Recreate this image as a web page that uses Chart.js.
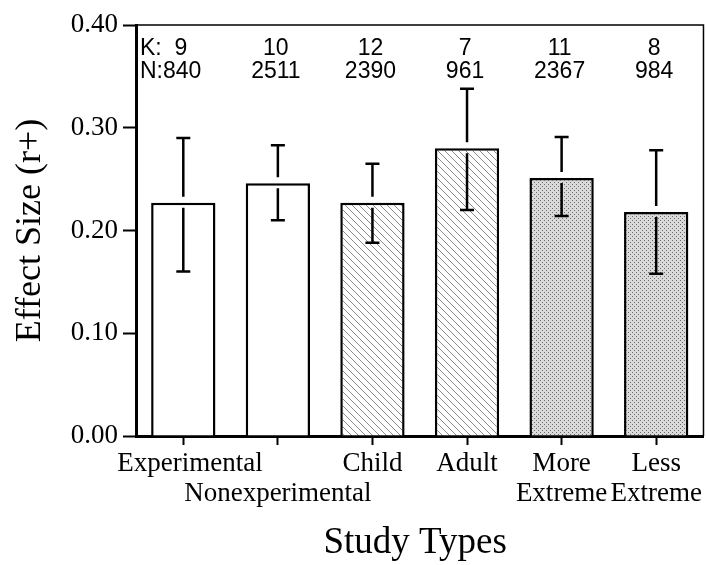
<!DOCTYPE html>
<html lang="en">
<head>
    <meta charset="UTF-8">
    <title>Effect Size by Study Type</title>
    <script src="https://cdn.jsdelivr.net/npm/chart.js"></script>
    <style>
        body {
            margin: 0;
            background-color: #ffffff;
        }
        #chart {
            display: block;
        }
    </style>
</head>
<body>
    <canvas id="chart" width="706" height="565"></canvas>
    <script>
        // data
        const studyTypes = [['  Experimental', ''], ['', 'Nonexperimental'], ['Child'], ['Adult'], ['More', 'Extreme'], ['Less', 'Extreme']];
        const effectSize = [0.227, 0.246, 0.227, 0.280, 0.251, 0.218];
        const ciHigh = [0.290, 0.283, 0.265, 0.338, 0.291, 0.278];
        const ciLow = [0.160, 0.210, 0.188, 0.220, 0.214, 0.158];
        const kCounts = [9, 10, 12, 7, 11, 8];
        const nCounts = [840, 2511, 2390, 961, 2367, 984];
        const yTicks = [0, 0.1, 0.2, 0.3, 0.4];

        // fill patterns
        function hatchPattern() {
            const c = document.createElement('canvas');
            c.width = 7; c.height = 7;
            const g = c.getContext('2d');
            g.fillStyle = '#fff';
            g.fillRect(0, 0, 7, 7);
            g.strokeStyle = '#8a8a8a';
            g.lineWidth = 1;
            g.beginPath();
            g.moveTo(0, 0); g.lineTo(7, 7);
            g.moveTo(-1, 6); g.lineTo(1, 8);
            g.moveTo(6, -1); g.lineTo(8, 1);
            g.stroke();
            return g.createPattern(c, 'repeat');
        }

        function dotPattern() {
            const c = document.createElement('canvas');
            c.width = 4; c.height = 4;
            const g = c.getContext('2d');
            g.fillStyle = '#dadada';
            g.fillRect(0, 0, 4, 4);
            g.fillStyle = '#6a6a6a';
            g.fillRect(0, 0, 1, 1);
            g.fillRect(2, 2, 1, 1);
            return g.createPattern(c, 'repeat');
        }

        const hatch = hatchPattern();
        const dots = dotPattern();
        const fills = ['#ffffff', '#ffffff', hatch, hatch, dots, dots];

        Chart.defaults.color = '#000';
        Chart.defaults.font.family = "'Liberation Serif', 'Times New Roman', serif";

        // error bars, K/N labels and the top/right frame
        const extras = {
            id: 'extras',
            afterDatasetsDraw(chart) {
                const ctx = chart.ctx;
                const x = chart.scales.x;
                const y = chart.scales.y;
                const area = chart.chartArea;
                ctx.save();

                ctx.strokeStyle = '#000';
                ctx.lineWidth = 1.5;
                ctx.beginPath();
                ctx.moveTo(area.left, area.top);
                ctx.lineTo(area.right, area.top);
                ctx.lineTo(area.right, area.bottom);
                ctx.stroke();

                ctx.lineWidth = 2.5;
                effectSize.forEach((v, i) => {
                    const cx = x.getPixelForValue(i);
                    const top = y.getPixelForValue(v);
                    const hi = y.getPixelForValue(ciHigh[i]);
                    const lo = y.getPixelForValue(ciLow[i]);
                    ctx.beginPath();
                    ctx.moveTo(cx, hi); ctx.lineTo(cx, top - 6);
                    ctx.moveTo(cx, top + 5); ctx.lineTo(cx, lo);
                    ctx.moveTo(cx - 7, hi); ctx.lineTo(cx + 7, hi);
                    ctx.moveTo(cx - 7, lo); ctx.lineTo(cx + 7, lo);
                    ctx.stroke();
                });

                ctx.fillStyle = '#000';
                ctx.font = "23px 'Liberation Sans', Arial, sans-serif";
                ctx.textBaseline = 'alphabetic';
                kCounts.forEach((k, i) => {
                    const cx = x.getPixelForValue(i);
                    if (i === 0) {
                        ctx.textAlign = 'left';
                        ctx.fillText('K:  ' + k, area.left + 4, 55);
                        ctx.fillText('N:' + nCounts[i], area.left + 4, 78);
                    } else {
                        ctx.textAlign = 'center';
                        ctx.fillText(String(k), cx - 2, 55);
                        ctx.fillText(String(nCounts[i]), cx - 2, 78);
                    }
                });
                ctx.restore();
            }
        };

        new Chart(document.getElementById('chart'), {
            type: 'bar',
            data: {
                labels: studyTypes,
                datasets: [{
                    data: effectSize,
                    backgroundColor: fills,
                    borderColor: '#000',
                    borderWidth: 2.5,
                    barPercentage: 0.68,
                    categoryPercentage: 1
                }]
            },
            options: {
                responsive: false,
                animation: false,
                layout: { padding: { top: 25, right: 1, left: 0, bottom: 0 } },
                plugins: {
                    legend: { display: false },
                    tooltip: { enabled: false }
                },
                scales: {
                    x: {
                        grid: { offset: false, drawOnChartArea: false, tickLength: 9, tickWidth: 2, tickColor: '#000' },
                        border: { color: '#000', width: 3 },
                        ticks: { font: { size: 27, lineHeight: 1.11 }, padding: 4, maxRotation: 0, autoSkip: false },
                        title: { display: true, text: 'Study Types ', font: { size: 37 }, padding: { top: 0, bottom: 0 } },
                        afterFit: s => { s.height = 129; }
                    },
                    y: {
                        min: 0,
                        max: 0.4,
                        afterBuildTicks: s => { s.ticks = yTicks.map(v => ({ value: v })); },
                        grid: { drawOnChartArea: false, tickLength: 13, tickWidth: 2, tickColor: '#000' },
                        border: { color: '#000', width: 3 },
                        ticks: { font: { size: 27 }, padding: 5, callback: v => v.toFixed(2) },
                        title: { display: true, text: 'Effect Size (r+)', font: { size: 36 }, padding: { top: 9, bottom: 0 } },
                        afterFit: s => { s.width = 136; }
                    }
                }
            },
            plugins: [extras]
        });
    </script>
</body>
</html>
